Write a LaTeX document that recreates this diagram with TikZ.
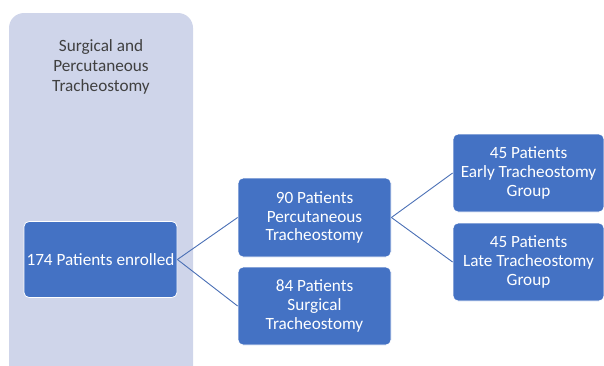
\documentclass[tikz,border=0pt]{standalone}
\usepackage{fontspec}
\setmainfont{Carlito}
\definecolor{boxblue}{HTML}{4472C4}
\definecolor{panel}{HTML}{CFD5EA}
\definecolor{linec}{HTML}{4A6FB5}
\definecolor{titlec}{HTML}{404040}
\begin{document}
\begin{tikzpicture}[x=1pt,y=-1pt,
  bx/.style={draw=white, line width=0.8pt, fill=boxblue, rounded corners=5pt, text=white, align=center, inner sep=0pt, font=\fontsize{17.2}{18.8}\selectfont},
  conn/.style={draw=linec, line width=0.9pt}]
\useasboundingbox (0,0) rectangle (604,365);
\fill[panel, rounded corners=15pt] (9,13) rectangle (193,385);
\node[text=titlec, align=center, font=\fontsize{17.2}{20}\selectfont] (title) at (101,67) {Surgical and\\Percutaneous\\Tracheostomy};
\node[bx, minimum width=153pt, minimum height=76pt] (a) at (100.5,259.5) {174 Patients enrolled};
\node[bx, minimum width=153pt, minimum height=79pt] (b) at (314.5,217.5) {90 Patients\\Percutaneous\\Tracheostomy};
\node[bx, minimum width=153pt, minimum height=78pt] (c) at (314.5,306) {84 Patients\\Surgical\\Tracheostomy};
\node[bx, minimum width=151pt, minimum height=78pt] (d) at (528.5,173) {45 Patients\\Early Tracheostomy\\Group};
\node[bx, minimum width=151pt, minimum height=78pt] (e) at (528.5,262) {45 Patients\\Late Tracheostomy\\Group};
\draw[conn] (a.east) -- (b.west);
\draw[conn] (a.east) -- (c.west);
\draw[conn] (b.east) -- (d.west);
\draw[conn] (b.east) -- (e.west);
\end{tikzpicture}
\end{document}
